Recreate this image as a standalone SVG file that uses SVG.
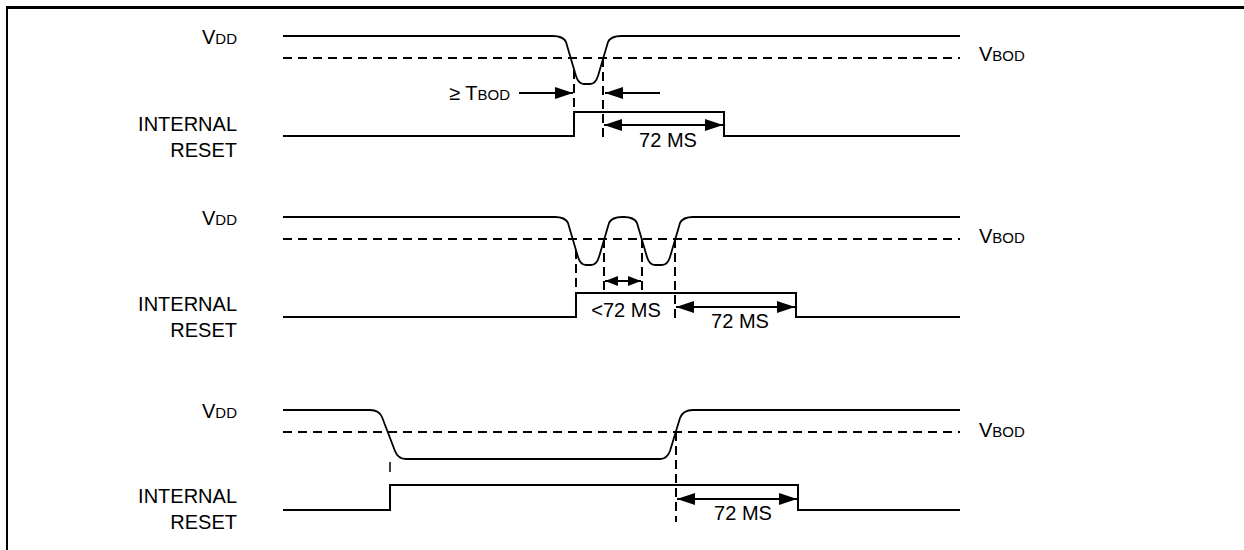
<svg xmlns="http://www.w3.org/2000/svg" width="1244" height="550" viewBox="0 0 1244 550">
<style>
text{font-family:"Liberation Sans",Arial,sans-serif;font-size:20px;fill:#000}
.sc{font-size:15px}
.r{text-anchor:end}
.m{text-anchor:middle}
.sig{fill:none;stroke:#000;stroke-width:2}
.vdd{fill:none;stroke:#000;stroke-width:1.8}
.dash{fill:none;stroke:#000;stroke-width:2;stroke-dasharray:9 6}
.vd{fill:none;stroke:#000;stroke-width:2;stroke-dasharray:9 5}
.arr{fill:none;stroke:#000;stroke-width:2}
</style>
<defs>
<marker id="ah" viewBox="0 0 18 12" refX="18" refY="6" markerWidth="18" markerHeight="12" markerUnits="userSpaceOnUse" orient="auto-start-reverse"><path d="M0,0 L18,6 L0,12 z" fill="#000"/></marker>
<marker id="ahs" viewBox="0 0 13 10" refX="13" refY="5" markerWidth="13" markerHeight="10" markerUnits="userSpaceOnUse" orient="auto-start-reverse"><path d="M0,0 L13,5 L0,10 z" fill="#000"/></marker>
</defs>
<rect width="1244" height="550" fill="#fff"/>
<g id="frame" fill="none" stroke="#000">
<line x1="6" y1="7.5" x2="1244" y2="7.5" stroke-width="3"/>
<line x1="7" y1="7" x2="7" y2="550" stroke-width="2"/>
</g>

<g id="panel1">
<g id="p1-labels">
<text x="237" y="44" class="r">V<tspan class="sc">DD</tspan></text>
<text x="979" y="61">V<tspan class="sc">BOD</tspan></text>
<text x="237" y="131" class="r">INTERNAL</text>
<text x="237" y="157" class="r">RESET</text>
</g>
<g id="p1-signals">
<line x1="283" y1="58" x2="960" y2="58" class="dash"/>
<path class="vdd" d="M283,36 H553 Q563,36 566,42 L576,76 Q578.5,84 584,84 H590 Q595.5,84 598,76 L608,42 Q611,36 621,36 H960"/>
<path class="sig" d="M283,136 H574 V112 H724 V136 H960"/>
</g>
<g id="p1-connectors">
<line x1="574" y1="70" x2="574" y2="137" class="vd"/>
<line x1="603" y1="58" x2="603" y2="139" class="vd"/>
<line x1="519" y1="93" x2="573" y2="93" class="arr" marker-end="url(#ah)"/>
<line x1="660" y1="93" x2="605" y2="93" class="arr" marker-end="url(#ah)"/>
<line x1="604" y1="125" x2="723" y2="125" class="arr" marker-start="url(#ah)" marker-end="url(#ah)"/>
</g>
<g id="p1-annot">
<text x="510" y="100" class="r">≥ T<tspan class="sc">BOD</tspan></text>
<text x="668" y="147" class="m">72 MS</text>
</g>
</g>

<g id="panel2">
<g id="p2-labels">
<text x="237" y="225" class="r">V<tspan class="sc">DD</tspan></text>
<text x="979" y="243">V<tspan class="sc">BOD</tspan></text>
<text x="237" y="311" class="r">INTERNAL</text>
<text x="237" y="337" class="r">RESET</text>
</g>
<g id="p2-signals">
<line x1="283" y1="239" x2="960" y2="239" class="dash"/>
<path class="vdd" d="M283,217 H555 Q565,217 568,223 L578,257 Q580.5,265 586,265 H591 Q596.5,265 599,257 L609,223 Q612,217 622,217 H624 Q634,217 637,223 L647,257 Q649.5,265 655,265 H662 Q667.5,265 670,257 L680,223 Q683,217 693,217 H960"/>
<path class="sig" d="M283,317 H576 V293 H796 V317 H960"/>
</g>
<g id="p2-connectors">
<line x1="576" y1="250" x2="576" y2="293" class="vd"/>
<line x1="604" y1="239" x2="604" y2="293" class="vd"/>
<line x1="642" y1="239" x2="642" y2="293" class="vd"/>
<line x1="675" y1="239" x2="675" y2="321" class="vd"/>
<line x1="605" y1="281" x2="641" y2="281" class="arr" marker-start="url(#ahs)" marker-end="url(#ahs)"/>
<line x1="676" y1="307" x2="795" y2="307" class="arr" marker-start="url(#ah)" marker-end="url(#ah)"/>
</g>
<g id="p2-annot">
<text x="626" y="317" class="m">&lt;72 MS</text>
<text x="740" y="328" class="m">72 MS</text>
</g>
</g>

<g id="panel3">
<g id="p3-labels">
<text x="237" y="418" class="r">V<tspan class="sc">DD</tspan></text>
<text x="979" y="437">V<tspan class="sc">BOD</tspan></text>
<text x="237" y="503" class="r">INTERNAL</text>
<text x="237" y="529" class="r">RESET</text>
</g>
<g id="p3-signals">
<line x1="283" y1="432" x2="960" y2="432" class="dash"/>
<path class="vdd" d="M283,410 H370 Q379,410 382,417 L395,451 Q398,459 406,459 H660 Q667,459 670,451 L680,418 Q683,410 693,410 H960"/>
<path class="sig" d="M283,510 H390 V485 H798 V510 H960"/>
</g>
<g id="p3-connectors">
<line x1="390" y1="462" x2="390" y2="472" stroke="#000" stroke-width="1.5"/>
<line x1="676" y1="432" x2="676" y2="522" class="vd"/>
<line x1="677" y1="499" x2="797" y2="499" class="arr" marker-start="url(#ah)" marker-end="url(#ah)"/>
</g>
<g id="p3-annot">
<text x="743" y="520" class="m">72 MS</text>
</g>
</g>
</svg>
